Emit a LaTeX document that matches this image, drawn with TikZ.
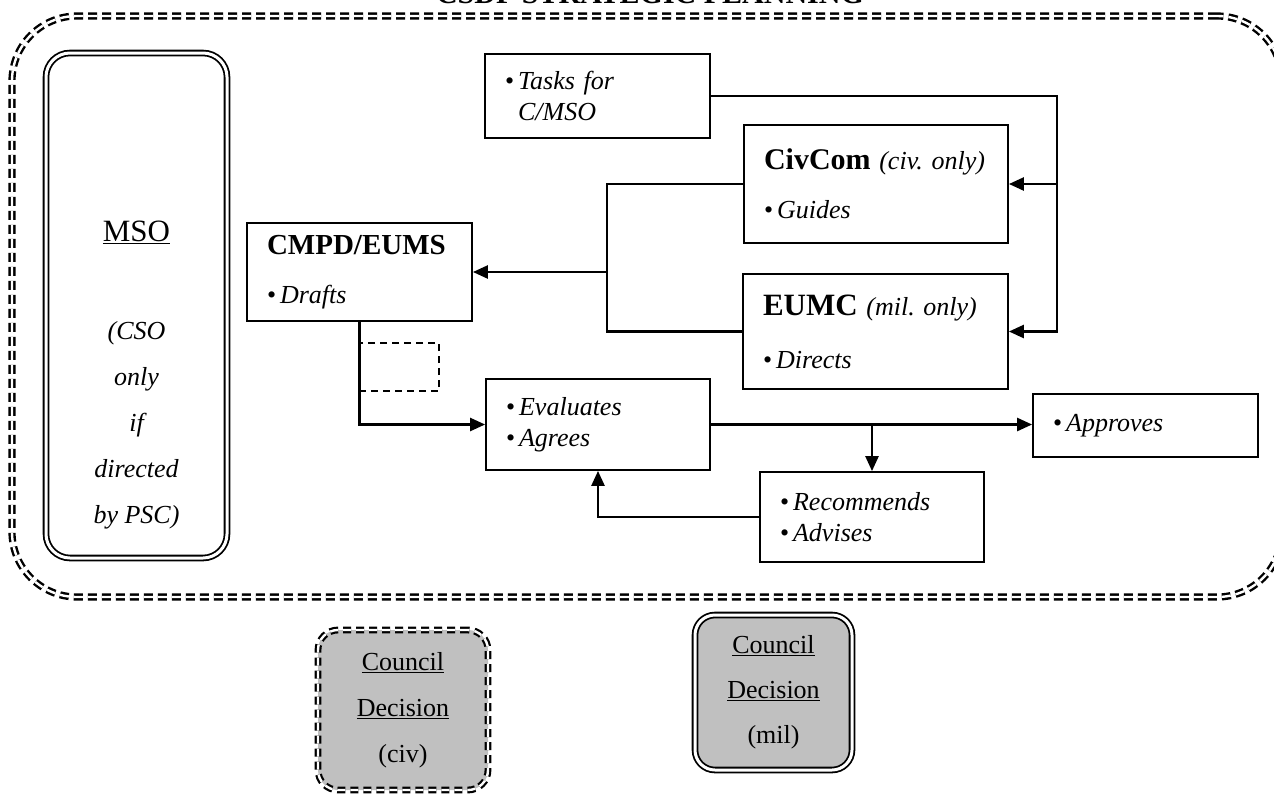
\documentclass[tikz,border=0pt]{standalone}
\usepackage{fontspec}
\setmainfont{Liberation Serif}
\usetikzlibrary{arrows.meta,calc}
\definecolor{councilgray}{RGB}{192,192,192}
\newcommand\mybullet{{\upshape\textbullet}\hspace{4pt}}
\frenchspacing
\begin{document}
\begin{tikzpicture}[x=1pt,y=-1pt,
  box/.style={draw, line width=1.8pt, align=left, inner xsep=20pt, inner ysep=0pt,
    font=\fontsize{26}{31}\selectfont\itshape},
  conn/.style={line width=2.5pt, line join=miter},
  arr/.style={conn, -{Triangle[length=15pt,width=13pt]}},
  framebox/.style={draw, double, double distance=2.4pt, line width=2.4pt,
    dash pattern=on 9pt off 5pt, rounded corners=65pt, inner sep=0pt},
  msobox/.style={draw, double, double distance=3pt, line width=1.8pt,
    rounded corners=24pt, inner sep=0pt},
  civbox/.style={draw, double, double distance=2.4pt, line width=2.2pt,
    dash pattern=on 8pt off 5pt, rounded corners=20pt, fill=councilgray,
    align=center, font=\fontsize{26}{46}\selectfont},
  milbox/.style={draw, double, double distance=3pt, line width=1.8pt,
    rounded corners=20pt, fill=councilgray,
    align=center, font=\fontsize{26}{45}\selectfont},
  dashbox/.style={draw, line width=1.4pt, dash pattern=on 7pt off 5pt, inner sep=0pt}
]
\useasboundingbox (0,0) rectangle (1274,796);

% title (cut at the top edge)
\node[anchor=base, font=\fontsize{30}{30}\selectfont\bfseries] (title) at (650,3) {CSDP STRATEGIC PLANNING};

% outer frame
\node[framebox, minimum width=1270pt, minimum height=581pt] (frame) at (647,306.5) {};

% MSO
\node[msobox, minimum width=181pt, minimum height=505pt] (mso) at (136.5,305.5) {};
\node[align=center, font=\fontsize{26}{46}\selectfont\itshape] (msotext) at (136.5,375)
  {\underline{\upshape\fontsize{31}{31}\selectfont MSO}\\[52pt](CSO\\only\\if\\directed\\by PSC)};

% boxes
\node[box, text width=185pt, minimum height=84pt] (tasks) at (597.5,96)
  {\mybullet Tasks for\\\hphantom{\mybullet}C/MSO};
\node[box, text width=224pt, minimum height=118pt] (civcom) at (876,184)
  {\mbox{{\upshape\bfseries\fontsize{30}{30}\selectfont CivCom} (civ. only)}\\[18pt]\mybullet Guides};
\node[box, text width=225pt, minimum height=115pt] (eumc) at (875.5,331.5)
  {\mbox{{\upshape\bfseries\fontsize{31}{31}\selectfont EUMC} (mil. only)}\\[22pt]\mybullet Directs};
\node[box, text width=185pt, minimum height=98pt] (cmpd) at (359.5,272)
  {{\upshape\bfseries\fontsize{29}{29}\selectfont CMPD/EUMS}\\[18pt]\mybullet Drafts};
\node[box, text width=184pt, minimum height=91pt] (eval) at (598,424.5)
  {\mybullet Evaluates\\\mybullet Agrees};
\node[box, text width=185pt, minimum height=63pt] (approves) at (1145.5,425.5)
  {\mybullet Approves};
\node[box, text width=184pt, minimum height=90pt] (recommends) at (872,517)
  {\mybullet Recommends\\\mybullet Advises};

\node[dashbox, minimum width=80pt, minimum height=48pt] (dbox) at (399,367) {};

% council decisions
\node[civbox, minimum width=170pt, minimum height=160pt] (civ) at (403,710)
  {\underline{Council}\\\underline{Decision}\\(civ)};
\node[milbox, minimum width=157pt, minimum height=155pt] (mil) at (773.5,692.5)
  {\underline{Council}\\\underline{Decision}\\(mil)};

% connectors
\coordinate (rbus) at (1057,0);
\coordinate (lbus) at (607,0);
\draw[arr] (tasks.east) -| (rbus |- eumc.east) -- (eumc.east);
\draw[arr] (rbus |- civcom.east) -- (civcom.east);
\draw[conn] (civcom.west) -| (lbus |- eumc.west) -- (eumc.west);
\draw[arr] (lbus |- cmpd.east) -- (cmpd.east);
\draw[arr] (cmpd.south) |- (eval.west);
\draw[arr] (eval.east) -- (approves.west |- eval.east);
\draw[arr] (recommends.north |- eval.east) -- (recommends.north);
\draw[arr] (recommends.west) -| (eval.south);
\end{tikzpicture}
\end{document}
